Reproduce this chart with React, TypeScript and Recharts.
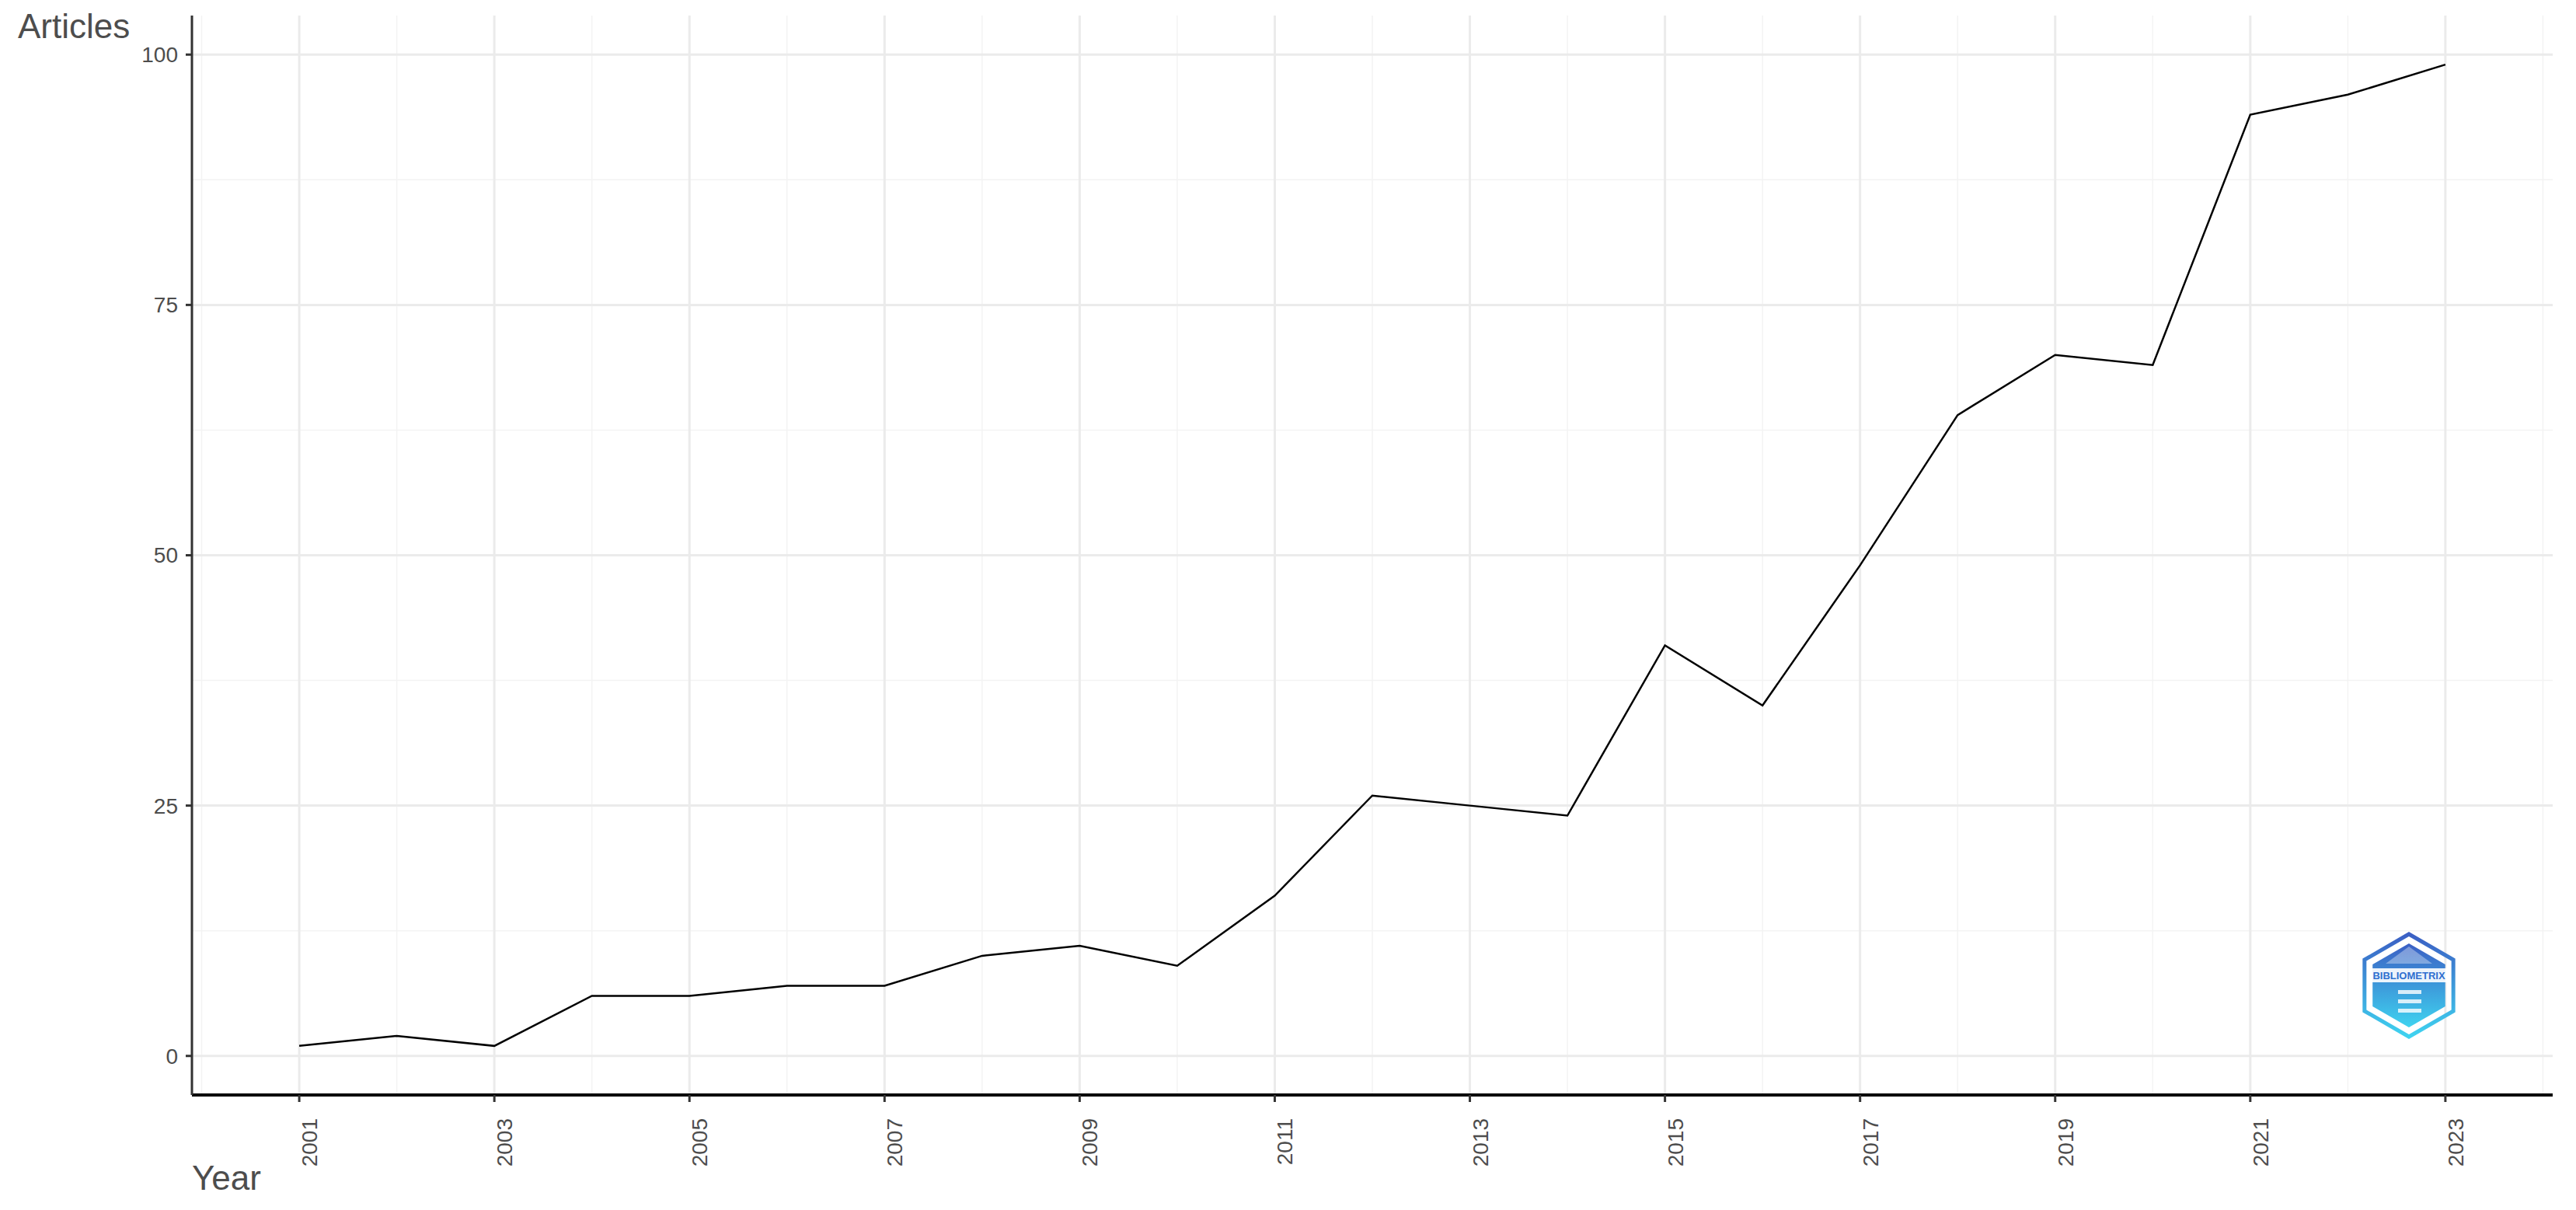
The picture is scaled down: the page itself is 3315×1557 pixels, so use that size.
import { LineChart, Line, XAxis, YAxis, CartesianGrid } from "recharts";

// annual scientific production
const years = [
  2001, 2002, 2003, 2004, 2005, 2006, 2007, 2008, 2009, 2010, 2011, 2012,
  2013, 2014, 2015, 2016, 2017, 2018, 2019, 2020, 2021, 2022, 2023,
];
const articles = [
  1, 2, 1, 6, 6, 7, 7, 10, 11, 9, 16, 26, 25, 24, 41, 35, 49, 64, 70, 69, 94, 96, 99,
];

const xTicks = [2001, 2003, 2005, 2007, 2009, 2011, 2013, 2015, 2017, 2019, 2021, 2023];
const xMinor = [2000, 2002, 2004, 2006, 2008, 2010, 2012, 2014, 2016, 2018, 2020, 2022, 2024];
const yTicks = [0, 25, 50, 75, 100];
const yMinor = [12.5, 37.5, 62.5, 87.5];

const data = years.map((y, i) => ({ year: y, articles: articles[i] }));

const FONT = "'Liberation Sans', Arial, sans-serif";
const TEXT = "#4d4d4d";

const YearTick = ({ x, y, payload }: any) => (
  <text
    x={0}
    y={0}
    transform={`translate(${x + 23},${y + 19}) rotate(-90)`}
    textAnchor="end"
    fontSize={28}
    fill={TEXT}
    fontFamily={FONT}
  >
    {payload.value}
  </text>
);

function Logo() {
  const cx = 3100;
  const cy = 1268;
  const hex = (r: number) =>
    [0, 1, 2, 3, 4, 5]
      .map(k => {
        const a = (Math.PI / 3) * k - Math.PI / 2;
        return `${cx + r * Math.cos(a)},${cy + r * Math.sin(a)}`;
      })
      .join(" ");
  return (
    <svg width={3315} height={1557} style={{ position: "absolute", left: 0, top: 0, pointerEvents: "none" }}>
      <defs>
        <linearGradient id="lg" x1="0" y1="0" x2="0" y2="1">
          <stop offset="0%" stopColor="#3b5fc4" />
          <stop offset="100%" stopColor="#3fd3f0" />
        </linearGradient>
      </defs>
      <polygon points={hex(66)} fill="none" stroke="url(#lg)" strokeWidth={5} />
      <polygon points={hex(54)} fill="url(#lg)" />
      <rect x={cx - 54} y={cy - 22} width={108} height={18} fill="#ffffff" opacity={0.9} />
      <text x={cx} y={cy - 8} textAnchor="middle" fontSize={13} fontWeight="bold" fill="#2f6fd0" fontFamily={FONT}>
        BIBLIOMETRIX
      </text>
      <polygon points={`${cx},${cy - 50} ${cx + 30},${cy - 28} ${cx - 30},${cy - 28}`} fill="#ffffff" opacity={0.35} />
      <rect x={cx - 14} y={cy + 6} width={30} height={5} fill="#ffffff" opacity={0.8} />
      <rect x={cx - 14} y={cy + 18} width={30} height={5} fill="#ffffff" opacity={0.8} />
      <rect x={cx - 14} y={cy + 30} width={30} height={5} fill="#ffffff" opacity={0.8} />
    </svg>
  );
}

export default function App() {
  return (
    <div style={{ position: "absolute", left: 0, top: 0, width: 3315, height: 1557, background: "#fff" }}>
      <LineChart
        width={3315}
        height={1557}
        data={data}
        margin={{ top: 20, right: 30, left: 147, bottom: 48 }}
      >
        <CartesianGrid
          horizontalValues={yMinor}
          verticalValues={xMinor}
          stroke="#f3f3f3"
          strokeWidth={1.5}
          syncWithTicks={false}
        />
        <CartesianGrid
          horizontalValues={yTicks}
          verticalValues={xTicks}
          stroke="#ebebeb"
          strokeWidth={3}
          syncWithTicks={false}
        />
        <XAxis
          dataKey="year"
          type="number"
          domain={[1999.9, 2024.1]}
          ticks={xTicks}
          interval={0}
          allowDataOverflow
          height={100}
          axisLine={{ stroke: "#000", strokeWidth: 4 }}
          tickLine={{ stroke: "#333", strokeWidth: 3 }}
          tickSize={9}
          tick={<YearTick />}
        />
        <YAxis
          type="number"
          domain={[-3.9, 103.9]}
          ticks={yTicks}
          interval={0}
          allowDataOverflow
          width={100}
          axisLine={{ stroke: "#333", strokeWidth: 3 }}
          tickLine={{ stroke: "#333", strokeWidth: 3 }}
          tickSize={8}
          tickMargin={10}
          tick={{ fontSize: 28, fill: TEXT, fontFamily: FONT }}
        />
        <Line
          type="linear"
          dataKey="articles"
          stroke="#000"
          strokeWidth={2.5}
          dot={false}
          isAnimationActive={false}
        />
      </LineChart>
      <div style={{ position: "absolute", left: 23, top: 12, fontSize: 44, color: TEXT, fontFamily: FONT, lineHeight: 1 }}>
        Articles
      </div>
      <div style={{ position: "absolute", left: 247, top: 1494, fontSize: 44, color: TEXT, fontFamily: FONT, lineHeight: 1 }}>
        Year
      </div>
      <Logo />
    </div>
  );
}
